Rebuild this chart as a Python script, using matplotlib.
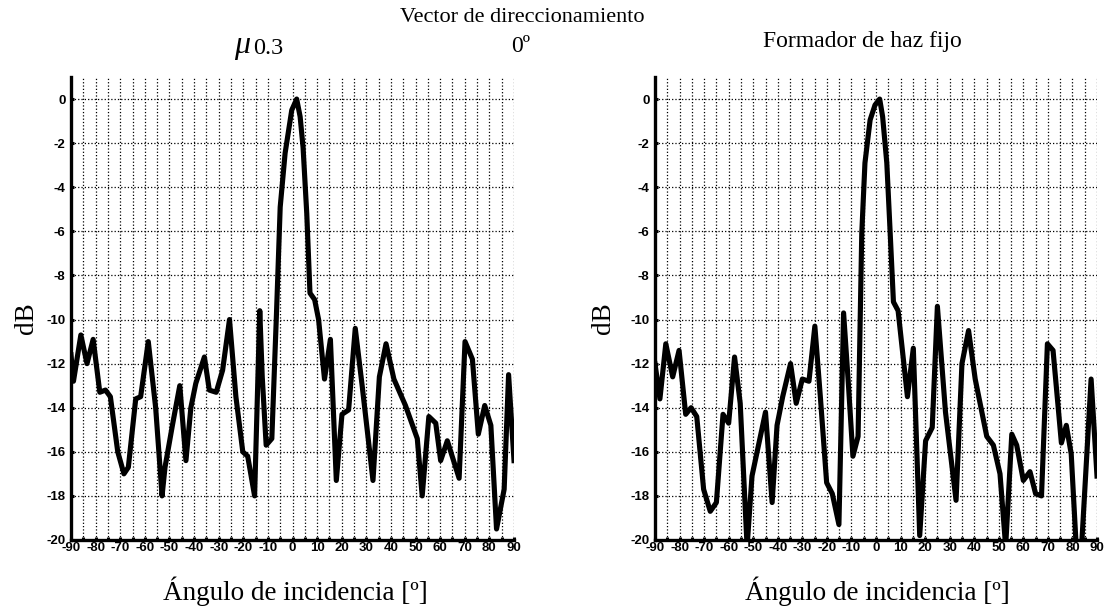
import matplotlib
matplotlib.use("Agg")
import matplotlib.pyplot as plt
from matplotlib.ticker import MultipleLocator

plt.rcParams["axes.unicode_minus"] = False

# ---- data ----
angles_mu = [-90, -89, -86, -83.5, -81, -78.3, -76, -74, -71, -68.5, -66.7, -63.7, -61.7,
             -58.6, -55.6, -53, -51.8, -48.8, -45.8, -43.3, -41.3, -39.3, -35.8, -33.8, -31,
             -28.4, -25.6, -23, -20.2, -18.2, -15.4, -13.3, -12.3, -10.7, -8.4, -6.5, -5, -3,
             -0.3, 1.7, 3.1, 4.3, 5.8, 7.1, 9, 10.6, 13, 15.4, 17.8, 20.1, 22.8, 25.5, 28.3,
             32.7, 35.3, 38, 41.2, 45.9, 50.7, 52.7, 55.4, 58.2, 60.2, 62.9, 67.7, 70.1, 73.1,
             75.5, 78.1, 80.6, 82.9, 86, 87.8, 90]
db_mu = [-11.6, -12.8, -10.7, -12.0, -10.9, -13.3, -13.2, -13.5, -16.0, -17.0, -16.7, -13.6,
         -13.5, -11.0, -14.0, -18.0, -16.7, -14.8, -13.0, -16.4, -14.0, -12.9, -11.7, -13.2,
         -13.3, -12.3, -10.0, -13.5, -16.0, -16.2, -18.0, -9.6, -12.6, -15.7, -15.4, -9.7,
         -4.9, -2.45, -0.5, 0.0, -0.8, -2.2, -5.2, -8.8, -9.1, -10.0, -12.7, -10.9, -17.3,
         -14.3, -14.1, -10.4, -13.0, -17.3, -12.6, -11.1, -12.7, -13.9, -15.4, -18.0, -14.4,
         -14.7, -16.4, -15.5, -17.2, -11.0, -11.8, -15.2, -13.9, -14.8, -19.5, -17.7, -12.5,
         -16.4]

angles_fix = [-90, -88, -85.6, -82.8, -80.2, -77.5, -75.3, -73, -70.2, -67.5, -65, -62.3, -60,
              -57.6, -55.3, -52.5, -50.5, -45, -42.3, -40.3, -38, -34.8, -32.5, -30, -27.3,
              -24.9, -22.6, -20.1, -17.8, -15.1, -13.2, -11.2, -9.4, -7.3, -5.8, -4.5, -2.4,
              -0.4, 1.5, 2.7, 4.4, 5.7, 7.1, 9, 12.8, 15.2, 17.8, 20.2, 22.9, 25, 28.3, 32.6,
              35, 37.7, 40.4, 45.1, 47.8, 50.5, 52.8, 55.3, 57.3, 60, 62.7, 65, 67.4, 69.8,
              72.1, 75.5, 77.5, 79.5, 82.6, 87.6, 90]
db_fix = [-12.0, -13.6, -11.1, -12.6, -11.4, -14.3, -14.0, -14.4, -17.7, -18.7, -18.3, -14.3,
          -14.7, -11.7, -13.8, -20.3, -17.1, -14.2, -18.3, -14.8, -13.5, -12.0, -13.8, -12.7,
          -12.8, -10.3, -13.6, -17.4, -17.9, -19.3, -9.7, -13.0, -16.2, -15.3, -6.1, -2.9,
          -0.95, -0.27, 0.0, -0.8, -2.9, -5.9, -9.2, -9.6, -13.5, -11.3, -19.8, -15.5, -14.9,
          -9.4, -14.2, -18.2, -12.0, -10.5, -12.7, -15.3, -15.7, -17.0, -20.3, -15.2, -15.7,
          -17.3, -16.9, -17.9, -18.0, -11.1, -11.4, -15.6, -14.8, -16.1, -22.5, -12.7, -17.1]

x_ticks = list(range(-90, 91, 10))
y_ticks = list(range(-20, 1, 2))

title_main = "Vector de direccionamiento"
title_angle = "0º"
title_mu_sym = "μ"
title_mu_val = "0.3"
title_right = "Formador de haz fijo"
x_label = "Ángulo de incidencia [º]"
y_label = "dB"

W, H = 1105, 613
fig = plt.figure(figsize=(W / 100, H / 100), dpi=100)
serif = "Liberation Serif"
sans = "Liberation Sans"


def px(x, y):
    return x / W, 1 - y / H


def make_axes(left_px, right_px, xs, ys):
    top_px, bot_px = 77, 540
    ax = fig.add_axes([left_px / W, 1 - bot_px / H, (right_px - left_px) / W,
                       (bot_px - top_px) / H])
    ax.plot(xs, ys, color="black", lw=3.7, solid_joinstyle="round", zorder=3)
    ax.set_xlim(-90, 90)
    ax.set_ylim(-20, 1)
    ax.set_xticks(x_ticks)
    ax.xaxis.set_minor_locator(MultipleLocator(5))
    ax.set_yticks(y_ticks)
    for s in ("top", "right"):
        ax.spines[s].set_visible(False)
    for s in ("left", "bottom"):
        ax.spines[s].set_linewidth(2.4)
    ax.tick_params(which="both", direction="in", length=2.5, width=2.2, color="black")
    ax.tick_params(axis="x", pad=1.5)
    ax.tick_params(axis="y", pad=4)
    ax.grid(which="both", axis="x", ls=":", color="black", lw=0.9)
    ax.grid(which="major", axis="y", ls=":", color="black", lw=0.9)
    ax.set_axisbelow(True)
    for lab in ax.get_xticklabels() + ax.get_yticklabels():
        lab.set_fontfamily(sans)
        lab.set_fontweight("bold")
        lab.set_fontsize(9.5)
    return ax


ax1 = make_axes(71, 514, angles_mu, db_mu)
ax2 = make_axes(655, 1097, angles_fix, db_fix)

# labels
for cx in (295, 877):
    fig.text(*px(cx, 591), x_label, family=serif, fontsize=19.5, ha="center", va="center")
for cx in (27, 604):
    fig.text(*px(cx, 318), y_label, family=serif, fontsize=19.5, ha="center", va="center",
             rotation=90)

# titles
fig.text(*px(522, 18), title_main, family=serif, fontsize=16, ha="center", va="center")
fig.text(*px(521, 46), title_angle, family=serif, fontsize=17, ha="center", va="center")
fig.text(*px(250, 46), title_mu_sym, family=serif, fontsize=23, style="italic",
         ha="right", va="center")
fig.text(*px(253, 48), title_mu_val, family=serif, fontsize=17.5, ha="left", va="center")
fig.text(*px(862, 41), title_right, family=serif, fontsize=17, ha="center", va="center")

fig.savefig("out.png", dpi=100)
